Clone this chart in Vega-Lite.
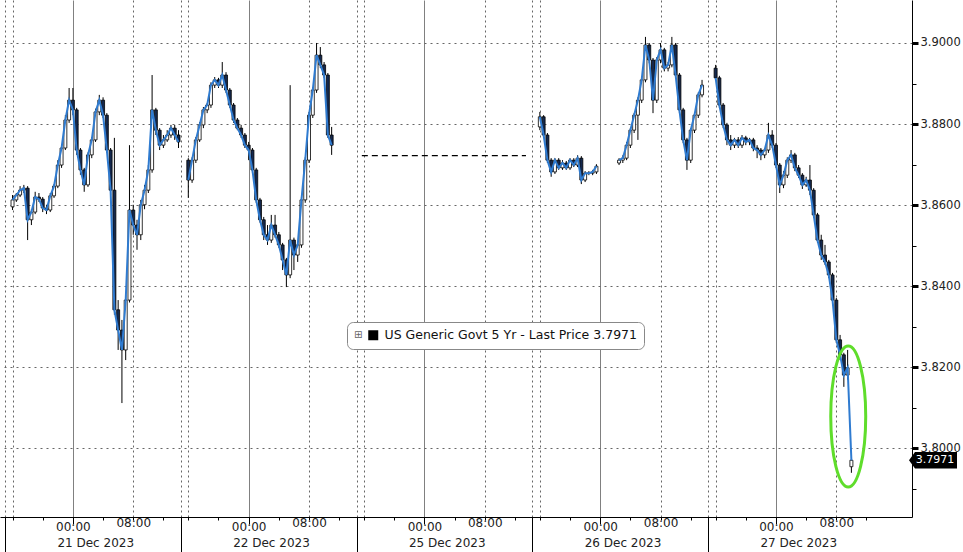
{
  "$schema": "https://vega.github.io/schema/vega-lite/v6.json",
  "width": 912,
  "height": 517,
  "autosize": {"type": "none"},
  "padding": {"left": 0, "top": 0, "right": 51, "bottom": 35},
  "background": "white",
  "config": {
    "view": {"stroke": null},
    "font": "DejaVu Sans",
    "axis": {"labelFont": "DejaVu Sans", "labelColor": "#222", "domainColor": "black", "tickColor": "black", "labelOverlap": false, "labelFlush": false, "labelBound": false}
  },
  "datasets": {
    "hol": [{"t": 47.3, "t2": 69.06, "v": 3.8722}],
    "note": [{"t": 111.78, "v": 3.8079}],
    "last": [{"t": 119.57, "v": 3.7971, "txt": "3.7971"}],
    "ohlc": [
{"t":1,"o":3.8596,"h":3.8625,"l":3.8588,"c":3.8613,"s":"21"},
{"t":1.5,"o":3.8613,"h":3.8630,"l":3.8608,"c":3.8625,"s":"21"},
{"t":2,"o":3.8625,"h":3.8647,"l":3.8620,"c":3.8637,"s":"21"},
{"t":2.5,"o":3.8637,"h":3.8650,"l":3.8630,"c":3.8642,"s":"21"},
{"t":3,"o":3.8642,"h":3.8647,"l":3.8514,"c":3.8564,"s":"21"},
{"t":3.5,"o":3.8564,"h":3.8590,"l":3.8551,"c":3.8583,"s":"21"},
{"t":4,"o":3.8583,"h":3.8633,"l":3.8578,"c":3.8620,"s":"21"},
{"t":4.5,"o":3.8620,"h":3.8630,"l":3.8608,"c":3.8615,"s":"21"},
{"t":5,"o":3.8615,"h":3.8620,"l":3.8583,"c":3.8593,"s":"21"},
{"t":5.5,"o":3.8593,"h":3.8601,"l":3.8578,"c":3.8588,"s":"21"},
{"t":6,"o":3.8588,"h":3.8630,"l":3.8583,"c":3.8623,"s":"21"},
{"t":6.5,"o":3.8623,"h":3.8652,"l":3.8618,"c":3.8647,"s":"21"},
{"t":7,"o":3.8647,"h":3.8711,"l":3.8642,"c":3.8699,"s":"21"},
{"t":7.5,"o":3.8699,"h":3.8748,"l":3.8692,"c":3.8741,"s":"21"},
{"t":8,"o":3.8741,"h":3.8822,"l":3.8736,"c":3.8810,"s":"21"},
{"t":8.5,"o":3.8810,"h":3.8889,"l":3.8803,"c":3.8859,"s":"21"},
{"t":9,"o":3.8859,"h":3.8889,"l":3.8822,"c":3.8835,"s":"21"},
{"t":9.5,"o":3.8835,"h":3.8840,"l":3.8724,"c":3.8736,"s":"21"},
{"t":10,"o":3.8736,"h":3.8741,"l":3.8675,"c":3.8687,"s":"21"},
{"t":10.5,"o":3.8687,"h":3.8692,"l":3.8633,"c":3.8650,"s":"21"},
{"t":11,"o":3.8650,"h":3.8730,"l":3.8645,"c":3.8724,"s":"21"},
{"t":11.5,"o":3.8724,"h":3.8768,"l":3.8716,"c":3.8761,"s":"21"},
{"t":12,"o":3.8761,"h":3.8838,"l":3.8756,"c":3.8830,"s":"21"},
{"t":12.5,"o":3.8830,"h":3.8872,"l":3.8822,"c":3.8859,"s":"21"},
{"t":13,"o":3.8859,"h":3.8866,"l":3.8815,"c":3.8822,"s":"21"},
{"t":13.5,"o":3.8822,"h":3.8827,"l":3.8729,"c":3.8736,"s":"21"},
{"t":14,"o":3.8736,"h":3.8741,"l":3.8625,"c":3.8637,"s":"21"},
{"t":14.5,"o":3.8637,"h":3.8766,"l":3.8330,"c":3.8342,"s":"21"},
{"t":15,"o":3.8342,"h":3.8366,"l":3.8243,"c":3.8292,"s":"21"},
{"t":15.5,"o":3.8292,"h":3.8317,"l":3.8112,"c":3.8243,"s":"21"},
{"t":16,"o":3.8243,"h":3.8379,"l":3.8218,"c":3.8366,"s":"21"},
{"t":16.5,"o":3.8366,"h":3.8748,"l":3.8360,"c":3.8588,"s":"21"},
{"t":17,"o":3.8588,"h":3.8601,"l":3.8527,"c":3.8551,"s":"21"},
{"t":17.5,"o":3.8551,"h":3.8564,"l":3.8490,"c":3.8527,"s":"21"},
{"t":18,"o":3.8527,"h":3.8613,"l":3.8514,"c":3.8601,"s":"21"},
{"t":18.5,"o":3.8601,"h":3.8650,"l":3.8590,"c":3.8637,"s":"21"},
{"t":19,"o":3.8637,"h":3.8699,"l":3.8630,"c":3.8687,"s":"21"},
{"t":19.5,"o":3.8687,"h":3.8921,"l":3.8680,"c":3.8835,"s":"21"},
{"t":20,"o":3.8835,"h":3.8840,"l":3.8773,"c":3.8785,"s":"21"},
{"t":20.5,"o":3.8785,"h":3.8790,"l":3.8736,"c":3.8748,"s":"21"},
{"t":21,"o":3.8748,"h":3.8773,"l":3.8741,"c":3.8761,"s":"21"},
{"t":21.5,"o":3.8761,"h":3.8785,"l":3.8756,"c":3.8773,"s":"21"},
{"t":22,"o":3.8773,"h":3.8798,"l":3.8766,"c":3.8790,"s":"21"},
{"t":22.5,"o":3.8790,"h":3.8798,"l":3.8761,"c":3.8773,"s":"21"},
{"t":23,"o":3.8773,"h":3.8785,"l":3.8741,"c":3.8756,"s":"21"},
{"t":24.3,"o":3.8711,"h":3.8716,"l":3.8618,"c":3.8662,"s":"22"},
{"t":24.8,"o":3.8662,"h":3.8718,"l":3.8655,"c":3.8711,"s":"22"},
{"t":25.3,"o":3.8711,"h":3.8768,"l":3.8704,"c":3.8761,"s":"22"},
{"t":25.8,"o":3.8761,"h":3.8805,"l":3.8756,"c":3.8798,"s":"22"},
{"t":26.3,"o":3.8798,"h":3.8842,"l":3.8790,"c":3.8835,"s":"22"},
{"t":26.8,"o":3.8835,"h":3.8852,"l":3.8827,"c":3.8847,"s":"22"},
{"t":27.3,"o":3.8847,"h":3.8903,"l":3.8840,"c":3.8896,"s":"22"},
{"t":27.8,"o":3.8896,"h":3.8916,"l":3.8889,"c":3.8909,"s":"22"},
{"t":28.3,"o":3.8909,"h":3.8914,"l":3.8889,"c":3.8896,"s":"22"},
{"t":28.8,"o":3.8896,"h":3.8953,"l":3.8889,"c":3.8921,"s":"22"},
{"t":29.3,"o":3.8921,"h":3.8928,"l":3.8877,"c":3.8884,"s":"22"},
{"t":29.8,"o":3.8884,"h":3.8889,"l":3.8840,"c":3.8847,"s":"22"},
{"t":30.3,"o":3.8847,"h":3.8852,"l":3.8803,"c":3.8810,"s":"22"},
{"t":30.8,"o":3.8810,"h":3.8815,"l":3.8785,"c":3.8790,"s":"22"},
{"t":31.3,"o":3.8790,"h":3.8798,"l":3.8766,"c":3.8773,"s":"22"},
{"t":31.8,"o":3.8773,"h":3.8778,"l":3.8741,"c":3.8748,"s":"22"},
{"t":32.3,"o":3.8748,"h":3.8756,"l":3.8711,"c":3.8736,"s":"22"},
{"t":32.8,"o":3.8736,"h":3.8741,"l":3.8680,"c":3.8687,"s":"22"},
{"t":33.3,"o":3.8687,"h":3.8692,"l":3.8606,"c":3.8613,"s":"22"},
{"t":33.8,"o":3.8613,"h":3.8618,"l":3.8557,"c":3.8564,"s":"22"},
{"t":34.3,"o":3.8564,"h":3.8571,"l":3.8514,"c":3.8527,"s":"22"},
{"t":34.8,"o":3.8527,"h":3.8551,"l":3.8502,"c":3.8514,"s":"22"},
{"t":35.3,"o":3.8514,"h":3.8576,"l":3.8507,"c":3.8551,"s":"22"},
{"t":35.8,"o":3.8551,"h":3.8576,"l":3.8520,"c":3.8527,"s":"22"},
{"t":36.3,"o":3.8527,"h":3.8534,"l":3.8495,"c":3.8502,"s":"22"},
{"t":36.8,"o":3.8502,"h":3.8507,"l":3.8440,"c":3.8465,"s":"22"},
{"t":37.3,"o":3.8465,"h":3.8470,"l":3.8398,"c":3.8428,"s":"22"},
{"t":37.8,"o":3.8428,"h":3.8896,"l":3.8420,"c":3.8514,"s":"22"},
{"t":38.3,"o":3.8514,"h":3.8520,"l":3.8440,"c":3.8477,"s":"22"},
{"t":38.8,"o":3.8477,"h":3.8510,"l":3.8460,"c":3.8502,"s":"22"},
{"t":39.3,"o":3.8502,"h":3.8620,"l":3.8495,"c":3.8613,"s":"22"},
{"t":39.8,"o":3.8613,"h":3.8718,"l":3.8606,"c":3.8711,"s":"22"},
{"t":40.3,"o":3.8711,"h":3.8830,"l":3.8704,"c":3.8822,"s":"22"},
{"t":40.8,"o":3.8822,"h":3.8891,"l":3.8815,"c":3.8884,"s":"22"},
{"t":41.3,"o":3.8884,"h":3.9000,"l":3.8877,"c":3.8970,"s":"22"},
{"t":41.8,"o":3.8970,"h":3.8990,"l":3.8938,"c":3.8946,"s":"22"},
{"t":42.3,"o":3.8946,"h":3.8953,"l":3.8914,"c":3.8921,"s":"22"},
{"t":42.8,"o":3.8921,"h":3.8926,"l":3.8766,"c":3.8773,"s":"22"},
{"t":43.3,"o":3.8773,"h":3.8793,"l":3.8724,"c":3.8748,"s":"22"},
{"t":70.9,"o":3.8793,"h":3.8830,"l":3.8785,"c":3.8818,"s":"26a"},
{"t":71.4,"o":3.8818,"h":3.8822,"l":3.8766,"c":3.8773,"s":"26a"},
{"t":71.9,"o":3.8773,"h":3.8778,"l":3.8704,"c":3.8711,"s":"26a"},
{"t":72.4,"o":3.8711,"h":3.8716,"l":3.8670,"c":3.8682,"s":"26a"},
{"t":72.9,"o":3.8682,"h":3.8716,"l":3.8677,"c":3.8711,"s":"26a"},
{"t":73.4,"o":3.8711,"h":3.8716,"l":3.8687,"c":3.8692,"s":"26a"},
{"t":73.9,"o":3.8692,"h":3.8711,"l":3.8687,"c":3.8704,"s":"26a"},
{"t":74.4,"o":3.8704,"h":3.8709,"l":3.8687,"c":3.8692,"s":"26a"},
{"t":74.9,"o":3.8692,"h":3.8716,"l":3.8687,"c":3.8711,"s":"26a"},
{"t":75.4,"o":3.8711,"h":3.8716,"l":3.8694,"c":3.8699,"s":"26a"},
{"t":75.9,"o":3.8699,"h":3.8723,"l":3.8694,"c":3.8716,"s":"26a"},
{"t":76.4,"o":3.8716,"h":3.8721,"l":3.8652,"c":3.8662,"s":"26a"},
{"t":76.9,"o":3.8662,"h":3.8684,"l":3.8657,"c":3.8679,"s":"26a"},
{"t":77.4,"o":3.8679,"h":3.8684,"l":3.8674,"c":3.8679,"s":"26a"},
{"t":77.9,"o":3.8679,"h":3.8687,"l":3.8674,"c":3.8682,"s":"26a"},
{"t":78.4,"o":3.8682,"h":3.8701,"l":3.8677,"c":3.8696,"s":"26a"},
{"t":81.4,"o":3.8704,"h":3.8716,"l":3.8699,"c":3.8711,"s":"26b"},
{"t":81.9,"o":3.8711,"h":3.8723,"l":3.8704,"c":3.8716,"s":"26b"},
{"t":82.4,"o":3.8716,"h":3.8756,"l":3.8711,"c":3.8748,"s":"26b"},
{"t":82.9,"o":3.8748,"h":3.8790,"l":3.8741,"c":3.8785,"s":"26b"},
{"t":83.4,"o":3.8785,"h":3.8827,"l":3.8778,"c":3.8822,"s":"26b"},
{"t":83.9,"o":3.8822,"h":3.8866,"l":3.8761,"c":3.8859,"s":"26b"},
{"t":84.4,"o":3.8859,"h":3.8914,"l":3.8852,"c":3.8909,"s":"26b"},
{"t":84.9,"o":3.8909,"h":3.9015,"l":3.8903,"c":3.8995,"s":"26b"},
{"t":85.4,"o":3.8995,"h":3.9000,"l":3.8950,"c":3.8958,"s":"26b"},
{"t":85.9,"o":3.8958,"h":3.8963,"l":3.8827,"c":3.8859,"s":"26b"},
{"t":86.4,"o":3.8859,"h":3.8965,"l":3.8852,"c":3.8958,"s":"26b"},
{"t":86.9,"o":3.8958,"h":3.9000,"l":3.8950,"c":3.8983,"s":"26b"},
{"t":87.4,"o":3.8983,"h":3.8988,"l":3.8930,"c":3.8938,"s":"26b"},
{"t":87.9,"o":3.8938,"h":3.8953,"l":3.8930,"c":3.8946,"s":"26b"},
{"t":88.4,"o":3.8946,"h":3.9015,"l":3.8940,"c":3.8995,"s":"26b"},
{"t":88.9,"o":3.8995,"h":3.9000,"l":3.8914,"c":3.8921,"s":"26b"},
{"t":89.4,"o":3.8921,"h":3.8926,"l":3.8827,"c":3.8835,"s":"26b"},
{"t":89.9,"o":3.8835,"h":3.8840,"l":3.8753,"c":3.8761,"s":"26b"},
{"t":90.4,"o":3.8761,"h":3.8766,"l":3.8687,"c":3.8711,"s":"26b"},
{"t":90.9,"o":3.8711,"h":3.8790,"l":3.8704,"c":3.8785,"s":"26b"},
{"t":91.4,"o":3.8785,"h":3.8827,"l":3.8778,"c":3.8822,"s":"26b"},
{"t":91.9,"o":3.8822,"h":3.8878,"l":3.8815,"c":3.8872,"s":"26b"},
{"t":92.4,"o":3.8872,"h":3.8909,"l":3.8866,"c":3.8896,"s":"26b"},
{"t":94.2,"o":3.8938,"h":3.8946,"l":3.8909,"c":3.8914,"s":"27"},
{"t":94.7,"o":3.8914,"h":3.8919,"l":3.8840,"c":3.8847,"s":"27"},
{"t":95.2,"o":3.8847,"h":3.8852,"l":3.8790,"c":3.8798,"s":"27"},
{"t":95.7,"o":3.8798,"h":3.8803,"l":3.8748,"c":3.8761,"s":"27"},
{"t":96.2,"o":3.8761,"h":3.8773,"l":3.8736,"c":3.8748,"s":"27"},
{"t":96.7,"o":3.8748,"h":3.8766,"l":3.8741,"c":3.8761,"s":"27"},
{"t":97.2,"o":3.8761,"h":3.8768,"l":3.8741,"c":3.8748,"s":"27"},
{"t":97.7,"o":3.8748,"h":3.8773,"l":3.8741,"c":3.8766,"s":"27"},
{"t":98.2,"o":3.8766,"h":3.8771,"l":3.8748,"c":3.8756,"s":"27"},
{"t":98.7,"o":3.8756,"h":3.8766,"l":3.8748,"c":3.8761,"s":"27"},
{"t":99.2,"o":3.8761,"h":3.8766,"l":3.8733,"c":3.8741,"s":"27"},
{"t":99.7,"o":3.8741,"h":3.8748,"l":3.8716,"c":3.8736,"s":"27"},
{"t":100.2,"o":3.8736,"h":3.8741,"l":3.8711,"c":3.8724,"s":"27"},
{"t":100.7,"o":3.8724,"h":3.8741,"l":3.8716,"c":3.8736,"s":"27"},
{"t":101.2,"o":3.8736,"h":3.8803,"l":3.8729,"c":3.8773,"s":"27"},
{"t":101.7,"o":3.8773,"h":3.8785,"l":3.8741,"c":3.8748,"s":"27"},
{"t":102.2,"o":3.8748,"h":3.8753,"l":3.8692,"c":3.8699,"s":"27"},
{"t":102.7,"o":3.8699,"h":3.8704,"l":3.8630,"c":3.8650,"s":"27"},
{"t":103.2,"o":3.8650,"h":3.8684,"l":3.8642,"c":3.8674,"s":"27"},
{"t":103.7,"o":3.8674,"h":3.8718,"l":3.8667,"c":3.8711,"s":"27"},
{"t":104.2,"o":3.8711,"h":3.8736,"l":3.8704,"c":3.8724,"s":"27"},
{"t":104.7,"o":3.8724,"h":3.8729,"l":3.8684,"c":3.8692,"s":"27"},
{"t":105.2,"o":3.8692,"h":3.8699,"l":3.8667,"c":3.8674,"s":"27"},
{"t":105.7,"o":3.8674,"h":3.8679,"l":3.8640,"c":3.8650,"s":"27"},
{"t":106.2,"o":3.8650,"h":3.8670,"l":3.8645,"c":3.8662,"s":"27"},
{"t":106.7,"o":3.8662,"h":3.8699,"l":3.8625,"c":3.8637,"s":"27"},
{"t":107.2,"o":3.8637,"h":3.8642,"l":3.8569,"c":3.8576,"s":"27"},
{"t":107.7,"o":3.8576,"h":3.8581,"l":3.8507,"c":3.8514,"s":"27"},
{"t":108.2,"o":3.8514,"h":3.8527,"l":3.8465,"c":3.8477,"s":"27"},
{"t":108.7,"o":3.8477,"h":3.8502,"l":3.8453,"c":3.8460,"s":"27"},
{"t":109.2,"o":3.8460,"h":3.8465,"l":3.8420,"c":3.8428,"s":"27"},
{"t":109.7,"o":3.8428,"h":3.8433,"l":3.8360,"c":3.8366,"s":"27"},
{"t":110.2,"o":3.8366,"h":3.8371,"l":3.8260,"c":3.8268,"s":"27"},
{"t":110.7,"o":3.8268,"h":3.8280,"l":3.8218,"c":3.8231,"s":"27"},
{"t":111.2,"o":3.8231,"h":3.8236,"l":3.8152,"c":3.8181,"s":"27"},
{"t":111.7,"o":3.8181,"h":3.8243,"l":3.8170,"c":3.8199,"s":"27"},
{"t":112.2,"o":3.7955,"h":3.7974,"l":3.7940,"c":3.7971,"s":"27"}
    ]
  },
  "layer": [
    {
      "data": {"name": "hol"},
      "mark": {"type": "rule", "strokeDash": [6, 4], "color": "black", "strokeWidth": 1.2},
      "encoding": {
        "x": {"field": "t", "type": "quantitative", "scale": {"domain": [0, 119.57], "nice": false, "zero": false},
          "axis": {"orient": "bottom", "title": null, "values": [0, 23.3, 46.6, 69.9, 93.2], "labels": false, "domain": false, "ticks": true, "tickSize": 35, "tickColor": "black", "grid": true, "gridDash": [2, 3], "gridColor": "#666"}},
        "x2": {"field": "t2"},
        "y": {"field": "v", "type": "quantitative", "scale": {"domain": [3.7831, 3.9106], "nice": false, "zero": false},
          "axis": {"orient": "right", "title": null, "values": [3.79, 3.80, 3.81, 3.82, 3.83, 3.84, 3.85, 3.86, 3.87, 3.88, 3.89, 3.90],
            "labelExpr": "round(datum.value*100) % 2 == 0 ? format(datum.value, '.4f') : ''",
            "labelFontSize": 11.5, "labelPadding": 2, "labelColor": "#222",
            "tickSize": {"condition": {"test": "round(datum.value*100) % 2 == 0", "value": 6}, "value": 4},
            "tickWidth": {"condition": {"test": "round(datum.value*100) % 2 == 0", "value": 3}, "value": 1},
            "tickColor": "black", "domainColor": "black",
            "grid": true, "gridDash": [2, 4], "gridColor": "#666",
            "gridOpacity": {"condition": {"test": "round(datum.value*100) % 2 == 0", "value": 1}, "value": 0}}}
      }
    },
    {
      "data": {"name": "ohlc"},
      "mark": {"type": "rule", "color": "black", "strokeWidth": 1},
      "encoding": {
        "x": {"field": "t", "type": "quantitative", "scale": {"domain": [0, 119.57], "nice": false, "zero": false},
          "axis": {"orient": "bottom", "title": null, "values": [9, 32.3, 55.6, 78.9, 102.2],
            "labelExpr": "['21 Dec 2023','22 Dec 2023','25 Dec 2023','26 Dec 2023','27 Dec 2023'][round((datum.value - 9)/23.3)]",
            "ticks": false, "domain": false, "grid": false, "labelAlign": "left", "labelBaseline": "top", "labelOffset": -16, "labelPadding": 20, "labelFontSize": 12}},
        "y": {"field": "l", "type": "quantitative", "scale": {"domain": [3.7831, 3.9106], "nice": false, "zero": false}, "axis": null},
        "y2": {"field": "h"}
      }
    },
    {
      "data": {"name": "ohlc"},
      "mark": {"type": "bar", "size": 3, "stroke": "black", "strokeWidth": 0.8},
      "encoding": {
        "x": {"field": "t", "type": "quantitative", "scale": {"domain": [0, 119.57], "nice": false, "zero": false}, "axis": null},
        "y": {"field": "o", "type": "quantitative", "scale": {"domain": [3.7831, 3.9106], "nice": false, "zero": false}, "axis": null},
        "y2": {"field": "c"},
        "fill": {"condition": {"test": "datum.c >= datum.o", "value": "white"}, "value": "#14284d"}
      }
    },
    {
      "data": {"name": "ohlc"},
      "mark": {"type": "line", "strokeWidth": 2},
      "encoding": {
        "x": {"field": "t", "type": "quantitative", "scale": {"domain": [0, 119.57], "nice": false, "zero": false},
          "axis": {"orient": "bottom", "title": null,
            "values": [1, 5, 9, 13, 17, 21, 24.3, 28.3, 32.3, 36.3, 40.3, 44.3, 47.6, 51.6, 55.6, 59.6, 63.6, 67.6, 70.9, 74.9, 78.9, 82.9, 86.9, 90.9, 94.2, 98.2, 102.2, 106.2, 110.2, 114.2],
            "labelExpr": "round(datum.value - 23.3*floor((datum.value + 0.05)/23.3)) == 9 ? '00:00' : (round(datum.value - 23.3*floor((datum.value + 0.05)/23.3)) == 17 ? '08:00' : '')",
            "labelFontSize": 12, "labelPadding": -3, "labelAlign": "center", "labelBaseline": "top",
            "tickSize": {"condition": {"test": "round(datum.value - 23.3*floor((datum.value + 0.05)/23.3)) == 9", "value": 7}, "value": 3},
            "tickColor": "black", "domain": true, "domainColor": "black",
            "grid": true,
            "gridColor": {"condition": {"test": "round(datum.value - 23.3*floor((datum.value + 0.05)/23.3)) == 9", "value": "#808080"}, "value": "#666"},
            "gridDash": {"condition": {"test": "round(datum.value - 23.3*floor((datum.value + 0.05)/23.3)) == 9", "value": []}, "value": [2, 3]},
            "gridOpacity": {"condition": {"test": "indexof([5,13,21], round(datum.value - 23.3*floor((datum.value + 0.05)/23.3))) >= 0", "value": 0}, "value": 1}}},
        "y": {"field": "c", "type": "quantitative", "scale": {"domain": [3.7831, 3.9106], "nice": false, "zero": false}, "axis": null},
        "detail": {"field": "s", "type": "nominal"},
        "color": {"datum": "US Generic Govt 5 Yr - Last Price 3.7971", "type": "nominal", "scale": {"range": ["#2f7bd0"]},
          "legend": {"orient": "none", "legendX": 347, "legendY": 322,
            "title": "⊞", "titleOrient": "left", "titleFontSize": 10, "titleColor": "#666", "titleFontWeight": "normal", "titlePadding": 4, "titleFont": "DejaVu Sans",
            "symbolType": "square", "symbolSize": 100, "symbolFillColor": "black", "symbolStrokeColor": "black", "symbolStrokeWidth": 0,
            "labelFont": "DejaVu Sans", "labelFontSize": 12.5, "labelColor": "#111", "labelOffset": 5, "labelLimit": 400,
            "padding": 7, "cornerRadius": 6, "fillColor": "white", "strokeColor": "#888",
            "encode": {"symbols": {"update": {"fill": {"value": "black"}, "stroke": {"value": "black"}, "strokeWidth": {"value": 0}}}}}}
      }
    },
    {
      "data": {"name": "note"},
      "mark": {"type": "point", "shape": "M 0 -1 A 0.248 1 0 1 1 0 1 A 0.248 1 0 1 1 0 -1 Z", "size": 19881, "filled": false, "stroke": "#5fdd2b", "strokeWidth": 3, "opacity": 1},
      "encoding": {
        "x": {"field": "t", "type": "quantitative", "scale": {"domain": [0, 119.57], "nice": false, "zero": false}, "axis": null},
        "y": {"field": "v", "type": "quantitative", "scale": {"domain": [3.7831, 3.9106], "nice": false, "zero": false}, "axis": null}
      }
    },
    {
      "data": {"name": "last"},
      "mark": {"type": "point", "shape": "M -1 0 L -0.75 -0.34 L 1 -0.34 L 1 0.34 L -0.75 0.34 Z", "size": 2304, "filled": true, "fill": "black", "stroke": null, "opacity": 1, "xOffset": 26},
      "encoding": {
        "x": {"field": "t", "type": "quantitative", "scale": {"domain": [0, 119.57], "nice": false, "zero": false}, "axis": null},
        "y": {"field": "v", "type": "quantitative", "scale": {"domain": [3.7831, 3.9106], "nice": false, "zero": false}, "axis": null}
      }
    },
    {
      "data": {"name": "last"},
      "mark": {"type": "text", "color": "white", "fontSize": 11, "font": "DejaVu Sans", "align": "center", "baseline": "middle", "dx": 28},
      "encoding": {
        "x": {"field": "t", "type": "quantitative", "scale": {"domain": [0, 119.57], "nice": false, "zero": false}, "axis": null},
        "y": {"field": "v", "type": "quantitative", "scale": {"domain": [3.7831, 3.9106], "nice": false, "zero": false}, "axis": null},
        "text": {"field": "txt"}
      }
    }
  ],
  "resolve": {"axis": {"x": "independent", "y": "independent"}}
}
